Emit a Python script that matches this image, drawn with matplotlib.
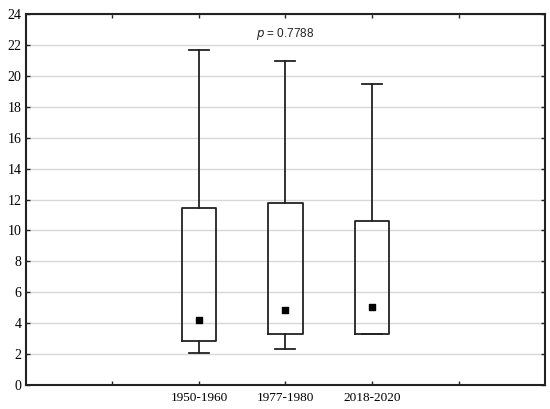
import matplotlib
matplotlib.use('Agg')
import matplotlib.pyplot as plt

# data
labels = ['1950-1960', '1977-1980', '2018-2020']
positions = [2, 3, 4]
whisker_low = [2.1, 2.35, 3.3]
q1 = [2.85, 3.3, 3.3]
medians = [4.2, 4.87, 5.05]
q3 = [11.45, 11.75, 10.63]
whisker_high = [21.65, 20.95, 19.5]
p_text = '= 0.7788'

fig = plt.figure(figsize=(5.5, 4.09), dpi=100)
ax = fig.add_axes([0.047, 0.0587, 0.944, 0.907])

stats = []
for i in range(len(labels)):
    stats.append({'whislo': whisker_low[i], 'q1': q1[i], 'med': medians[i],
                  'q3': q3[i], 'whishi': whisker_high[i], 'label': labels[i]})

lc = '#222222'
ax.bxp(stats, positions=positions, widths=0.4, showfliers=False,
       boxprops=dict(color=lc, linewidth=1.3),
       whiskerprops=dict(color=lc, linewidth=1.3),
       capprops=dict(color=lc, linewidth=1.3),
       medianprops=dict(linewidth=0),
       capwidths=0.23, zorder=3)
ax.scatter(positions, medians, marker='s', s=20, color='black', zorder=4)

ax.text(3, 22.7, r'$p$ ' + p_text, ha='center', va='center',
        fontsize=8.5, family='Liberation Sans', color='#222222')

ax.set_xlim(0, 6)
ax.set_ylim(0, 24)
ax.set_xticks([1, 2, 3, 4, 5])
ax.set_xticklabels(['', labels[0], labels[1], labels[2], ''])
ax.set_yticks(range(0, 25, 2))
ax.yaxis.grid(True, color='#d8d8d8', linewidth=1)
ax.set_axisbelow(True)
ax.tick_params(direction='in', length=3, width=1, top=True, right=True,
               pad=3, color='#222222')
ax.tick_params(axis='y', labelsize=10)
ax.tick_params(axis='x', labelsize=9.5, pad=5)
for lab in ax.get_xticklabels() + ax.get_yticklabels():
    lab.set_family('Liberation Serif')
for s in ax.spines.values():
    s.set_linewidth(1.5)
    s.set_color('#222222')

fig.savefig('out.png', dpi=100)
